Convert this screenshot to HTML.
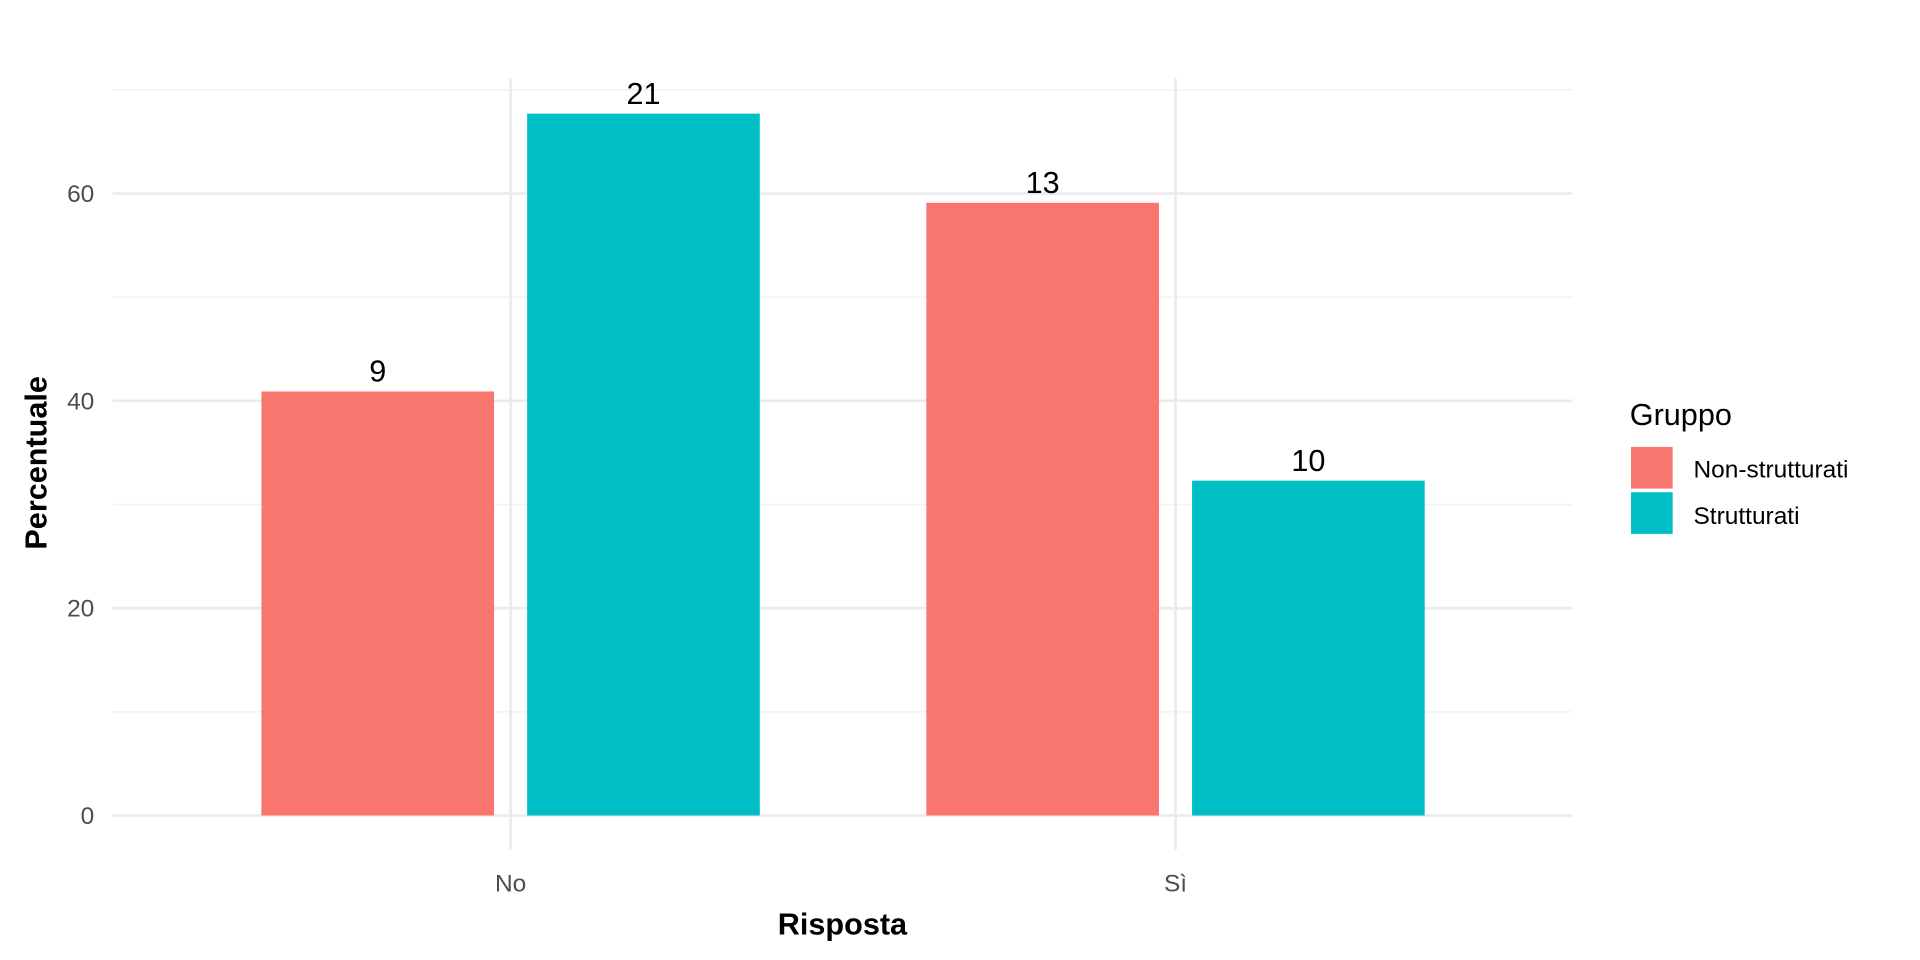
<!DOCTYPE html>
<html><head><meta charset="utf-8"><style>
html,body{margin:0;padding:0;background:#fff;width:1920px;height:960px;overflow:hidden}
svg{display:block}
text{font-family:"Liberation Sans",Arial,sans-serif}
</style></head><body>
<svg id="chart" width="1920" height="960" viewBox="0 0 1568 784" preserveAspectRatio="none" xmlns="http://www.w3.org/2000/svg">
<g id="grid"></g><g id="bars"></g><g id="labels"></g><g id="axes"></g>
<text transform="translate(38,378) rotate(-90)" text-anchor="middle" font-size="25" font-weight="bold" fill="#000">Percentuale</text>
<text x="688" y="763" text-anchor="middle" font-size="25" font-weight="bold" fill="#000">Risposta</text>
<g>
<text x="1331" y="347" font-size="25" fill="#000">Gruppo</text>
<rect x="1332" y="365" width="34" height="34" fill="#F8766D"/>
<text x="1383" y="390" font-size="20" fill="#000">Non-strutturati</text>
<rect x="1332" y="402" width="34" height="34" fill="#00BFC4"/>
<text x="1383" y="428" font-size="20" fill="#000">Strutturati</text>
</g>
</svg>
<script>
const categories = ["No", "Sì"];
const groups = ["Non-strutturati", "Strutturati"];
const nonStrutturati = [40.9, 59.1];
const strutturati = [67.7, 32.3];
const countsNon = [9, 13];
const countsStr = [21, 10];
const yTicks = [0, 20, 40, 60];
const yMinor = [10, 30, 50, 70];

const NS = "http://www.w3.org/2000/svg";
const x0 = 92, x1 = 1284, yBase = 666, pxPerUnit = (666 - 158) / 60;
function y(v){ return yBase - v * pxPerUnit; }
function xCat(i){ return 417 + i * 543; }
function mk(tag, attrs, parent){ const e=document.createElementNS(NS,tag); for(const k in attrs) e.setAttribute(k,attrs[k]); parent.appendChild(e); return e; }
const grid=document.getElementById('grid'), bars=document.getElementById('bars'), labels=document.getElementById('labels'), axes=document.getElementById('axes');

yMinor.forEach(v=>{
  const l=mk('line',{x1:x0,x2:x1,y1:y(v),y2:y(v),stroke:'#f2f2f2','stroke-width':1.2},grid);
  
  
});
yTicks.forEach(v=>{
  const l=mk('line',{x1:x0,x2:x1,y1:y(v),y2:y(v),stroke:'#ebebeb','stroke-width':2.2},grid);
  
  
  const t=mk('text',{x:77,y:y(v)+7,'text-anchor':'end','font-size':20,fill:'#4d4d4d'},axes);
  t.textContent=v;
  
  
});
categories.forEach((c,i)=>{
  const l=mk('line',{x1:xCat(i),x2:xCat(i),y1:64,y2:694,stroke:'#ebebeb','stroke-width':2.2},grid);
  
  
  const t=mk('text',{x:xCat(i),y:728,'text-anchor':'middle','font-size':20,fill:'#4d4d4d'},axes);
  t.textContent=c;
  
  
});
const series=[{vals:nonStrutturati,counts:countsNon,color:'#F8766D',off:-108.5,name:'non-strutturati'},
              {vals:strutturati,counts:countsStr,color:'#00BFC4',off:108.5,name:'strutturati'}];
const bw=190;
series.forEach(s=>{
  s.vals.forEach((v,i)=>{
    const cx=xCat(i)+s.off;
    const r=mk('rect',{x:cx-bw/2,y:y(v),width:bw,height:yBase-y(v),fill:s.color},bars);
    
    
    const t=mk('text',{x:cx,y:y(v)-8,'text-anchor':'middle','font-size':25,fill:'#000'},labels);
    t.textContent=s.counts[i];
    
    
  });
});
</script>
</body></html>
